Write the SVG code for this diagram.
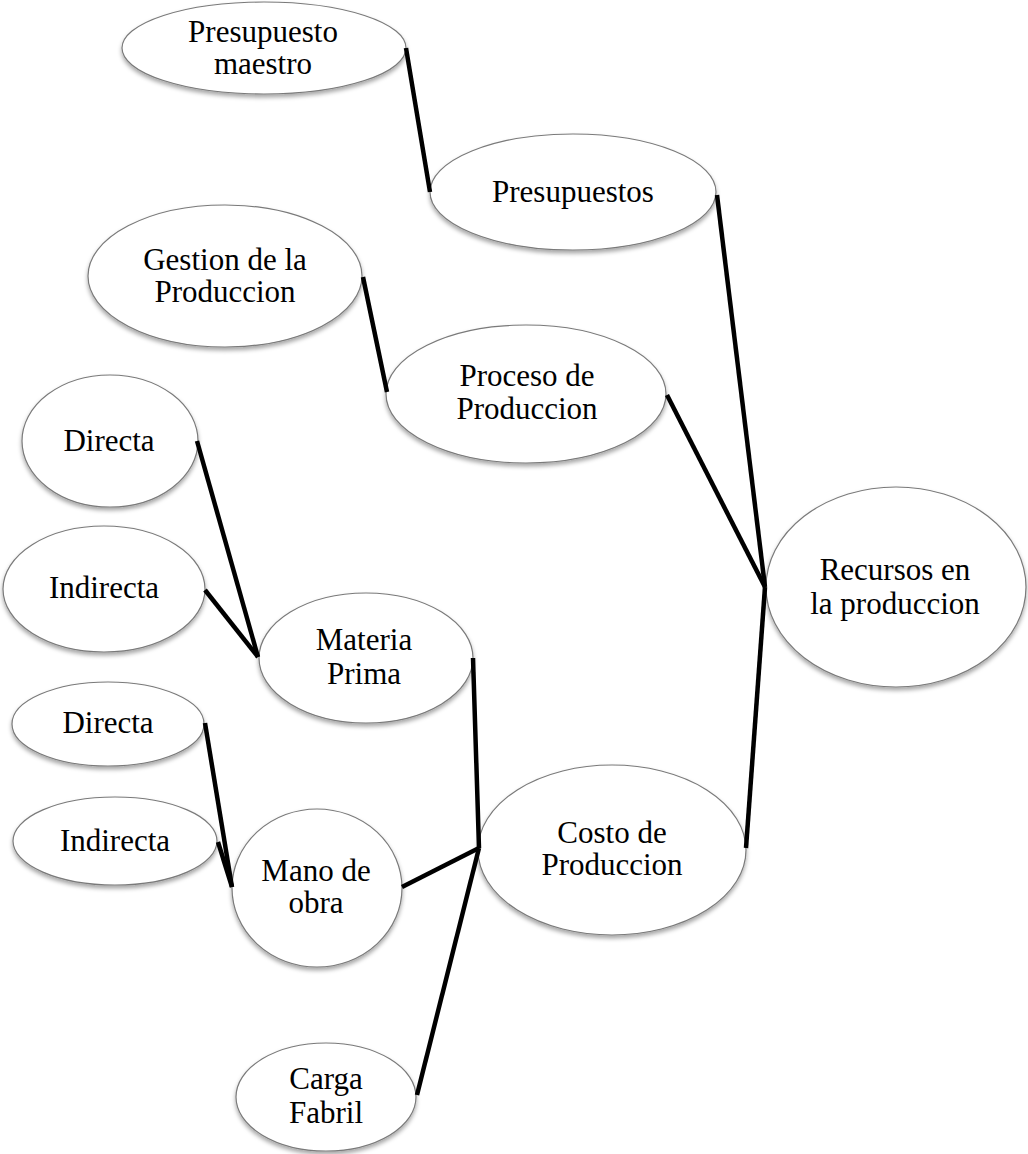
<svg xmlns="http://www.w3.org/2000/svg" width="1028" height="1154" viewBox="0 0 1028 1154">
<style>
.n ellipse{fill:#fff;stroke:#7a7a7a;stroke-width:1.2;filter:url(#sh)}
.n text{font-family:"Liberation Serif","Times New Roman",serif;font-size:31px;fill:#000;text-anchor:middle}
.c line{stroke:#000;stroke-width:4.5;stroke-linecap:butt}
</style>
<defs>
<filter id="sh" x="-10%" y="-10%" width="120%" height="130%">
<feDropShadow dx="0" dy="3" stdDeviation="2" flood-color="#000" flood-opacity="0.35"/>
</filter>
</defs>
<rect width="1028" height="1154" fill="#fff"/>
<g id="n-maestro" class="n"><ellipse cx="264" cy="48" rx="142" ry="46"/><text x="263" y="42">Presupuesto</text><text x="263" y="74">maestro</text></g>
<g id="n-presupuestos" class="n"><ellipse cx="573" cy="192" rx="143" ry="58"/><text x="573" y="202">Presupuestos</text></g>
<g id="n-gestion" class="n"><ellipse cx="225" cy="276" rx="137" ry="71"/><text x="225" y="270">Gestion de la</text><text x="225" y="302">Produccion</text></g>
<g id="n-proceso" class="n"><ellipse cx="526" cy="394" rx="140" ry="69"/><text x="527" y="386">Proceso de</text><text x="527" y="419">Produccion</text></g>
<g id="n-directa1" class="n"><ellipse cx="110" cy="441" rx="88" ry="66"/><text x="109" y="451">Directa</text></g>
<g id="n-indirecta1" class="n"><ellipse cx="104" cy="589" rx="101" ry="63"/><text x="104" y="598">Indirecta</text></g>
<g id="n-materia" class="n"><ellipse cx="366" cy="658" rx="107" ry="65"/><text x="364" y="650">Materia</text><text x="364" y="684">Prima</text></g>
<g id="n-recursos" class="n"><ellipse cx="896" cy="587" rx="130" ry="100"/><text x="895" y="580">Recursos en</text><text x="895" y="614">la produccion</text></g>
<g id="n-directa2" class="n"><ellipse cx="108" cy="724" rx="96" ry="42"/><text x="108" y="733">Directa</text></g>
<g id="n-indirecta2" class="n"><ellipse cx="115" cy="841" rx="102" ry="44"/><text x="115" y="851">Indirecta</text></g>
<g id="n-mano" class="n"><ellipse cx="317" cy="888" rx="85" ry="79"/><text x="316" y="881">Mano de</text><text x="316" y="913">obra</text></g>
<g id="n-carga" class="n"><ellipse cx="326" cy="1097" rx="90" ry="54"/><text x="326" y="1089">Carga</text><text x="326" y="1123">Fabril</text></g>
<g id="n-costo" class="n"><ellipse cx="612" cy="850" rx="134" ry="85"/><text x="612" y="843">Costo de</text><text x="612" y="875">Produccion</text></g>
<g id="connectors" class="c">
<line x1="406" y1="48" x2="430" y2="192"/>
<line x1="717" y1="195" x2="765" y2="587"/>
<line x1="363" y1="277" x2="387" y2="392"/>
<line x1="667" y1="395" x2="765" y2="587"/>
<line x1="746" y1="848" x2="765" y2="587"/>
<line x1="197" y1="441" x2="258" y2="657"/>
<line x1="205" y1="590" x2="258" y2="657"/>
<line x1="473" y1="658" x2="479" y2="848"/>
<line x1="402" y1="887" x2="479" y2="848"/>
<line x1="417" y1="1095" x2="479" y2="848"/>
<line x1="205" y1="723" x2="232" y2="887"/>
<line x1="218" y1="842" x2="232" y2="887"/>
</g>
</svg>
